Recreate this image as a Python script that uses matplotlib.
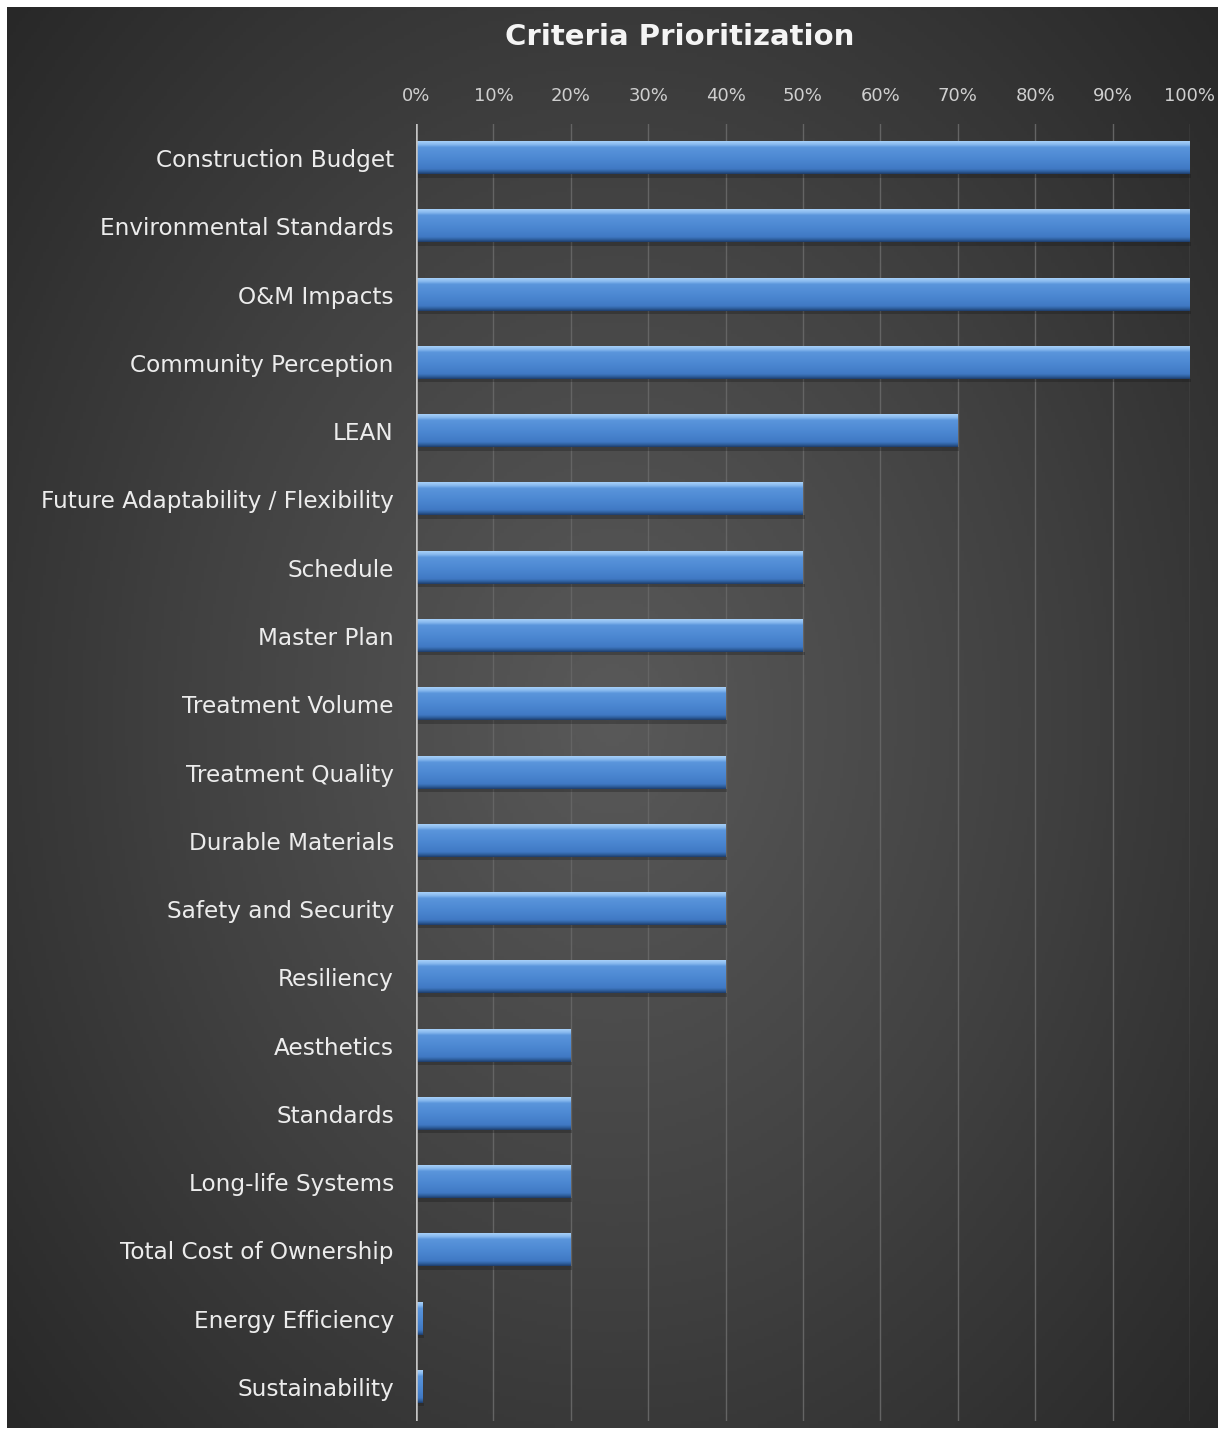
#!/usr/bin/env python3

import numpy as np
import matplotlib.pyplot as plt
from matplotlib.colors import LinearSegmentedColormap

# Data (percent of respondents)
criteria = [
    "Construction Budget",
    "Environmental Standards",
    "O&M Impacts",
    "Community Perception",
    "LEAN",
    "Future Adaptability / Flexibility",
    "Schedule",
    "Master Plan",
    "Treatment Volume",
    "Treatment Quality",
    "Durable Materials",
    "Safety and Security",
    "Resiliency",
    "Aesthetics",
    "Standards",
    "Long-life Systems",
    "Total Cost of Ownership",
    "Energy Efficiency",
    "Sustainability",
]
priority = [100, 100, 100, 100, 70, 50, 50, 50, 40, 40, 40, 40, 40, 20, 20, 20, 20, 0.8, 0.8]
tick_values = [0, 10, 20, 30, 40, 50, 60, 70, 80, 90, 100]

W, H = 1223, 1433
fig = plt.figure(figsize=(W / 100, H / 100), dpi=100, facecolor="white")

# Dark radial-gradient background, inset a little from the white edge
bg = fig.add_axes([7 / W, 5 / H, (W - 12) / W, (H - 12) / H])
yy, xx = np.mgrid[-1:1:400j, -1:1:400j]
r = np.sqrt(xx ** 2 + (yy * 0.9) ** 2)
bg_cmap = LinearSegmentedColormap.from_list("bg", ["#595959", "#424242", "#282828"])
bg.imshow(np.clip(r / 1.35, 0, 1), cmap=bg_cmap, aspect="auto", extent=[0, 1, 0, 1])
bg.axis("off")

# Main chart axes
left, right = 416 / W, 1190 / W
top, bottom = 124 / H, 1421 / H
ax = fig.add_axes([left, 1 - bottom, right - left, bottom - top])
ax.patch.set_alpha(0)

y = np.arange(len(criteria))
bars = ax.barh(y, priority, height=0.47, color="#4a84cc", edgecolor="none", zorder=3)

# Bevel look: thin light top edge, blue body, dark bottom edge (row 0 = visual top)
bar_cmap = LinearSegmentedColormap.from_list(
    "bar",
    [(0.0, "#a6d0f8"), (0.10, "#86b8ee"), (0.18, "#5a95dc"), (0.55, "#4b87d1"),
     (0.85, "#4079c4"), (0.93, "#2f5f9e"), (1.0, "#1f3f6e")],
)
grad = np.linspace(0, 1, 64).reshape(-1, 1)
for b in bars:
    x0, y0 = b.get_x(), b.get_y()
    w, h = b.get_width(), b.get_height()
    ax.imshow(grad, cmap=bar_cmap, aspect="auto", origin="lower",
              extent=[x0, x0 + w, y0, y0 + h], zorder=4)
    b.set_visible(False)
    # soft shadow below
    ax.fill_between([x0 + 0.2, x0 + w + 0.2], y0 + h, y0 + h + 0.05,
                    color="#151515", alpha=0.3, lw=0, zorder=2)

ax.set_xlim(0, 100)
ax.set_ylim(len(criteria) - 0.5, -0.5)
ax.set_aspect("auto")

ax.set_xticks(tick_values)
ax.set_xticklabels([f"{v}%" for v in tick_values])
ax.xaxis.tick_top()
ax.tick_params(axis="x", length=0, pad=14, labelsize=13, labelcolor="#cfcfcf")
ax.set_yticks(y)
ax.set_yticklabels(criteria)
ax.tick_params(axis="y", length=0, pad=16, labelsize=16.7, labelcolor="#ececec")

ax.grid(axis="x", color="#646464", lw=1.0, zorder=1)
ax.axvline(0, color="#c4c4c4", lw=1.8, zorder=5)
for s in ax.spines.values():
    s.set_visible(False)

fig.text(680 / W, 1 - 37 / H, "Criteria Prioritization", ha="center", va="center",
         fontsize=21, fontweight="bold", color="#f4f4f4")

plt.savefig("out.png", dpi=100, facecolor="white")
